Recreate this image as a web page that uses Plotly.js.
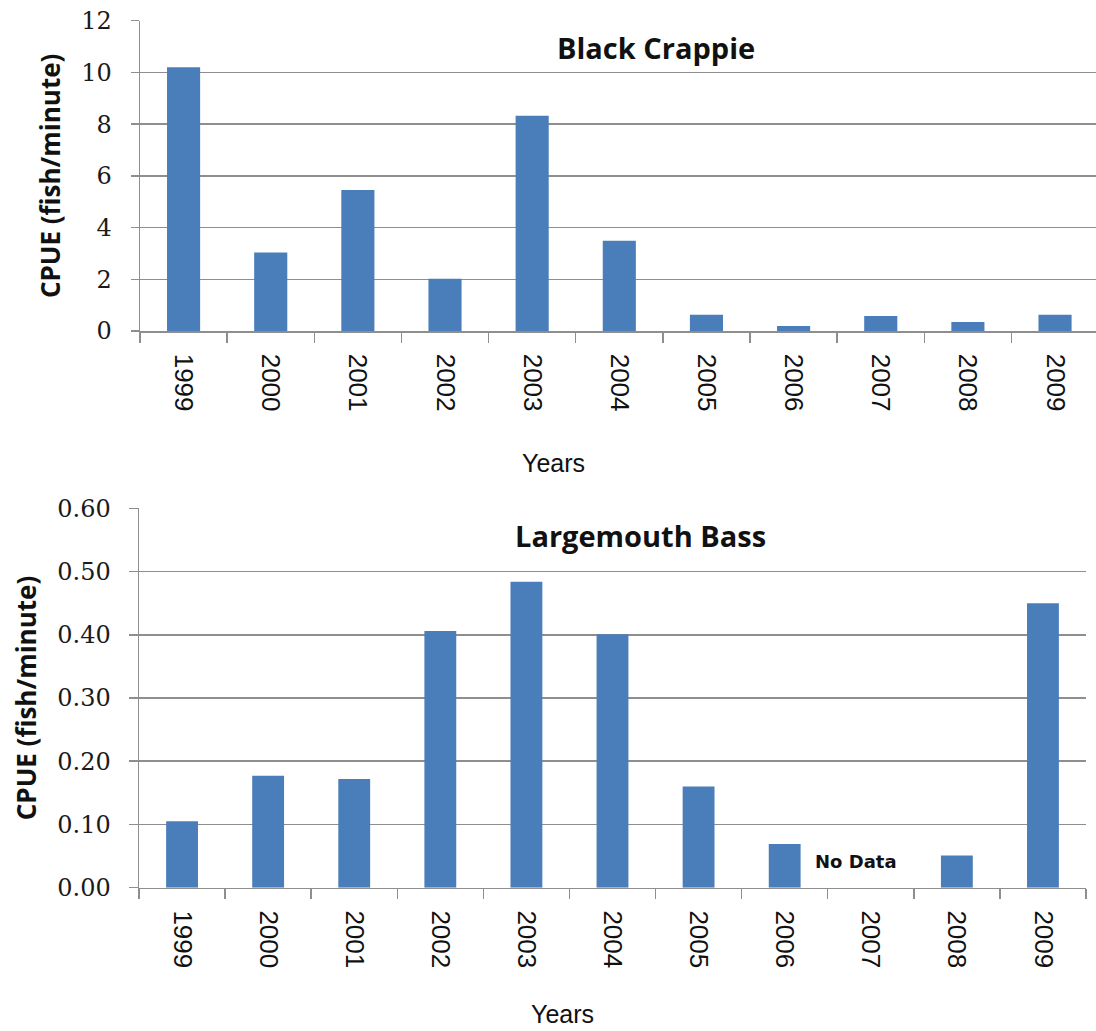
<!DOCTYPE html>
<html>
<head>
<meta charset="utf-8">
<script src="https://cdn.plot.ly/plotly-3.0.1.min.js"></script>
<style>
  html, body { margin: 0; padding: 0; background: #ffffff; }
  #chart { width: 1096px; height: 1031px; }
</style>
</head>
<body>
<div id="chart"></div>
<script>
// Survey years shared by both panels
const years = ['1999', '2000', '2001', '2002', '2003', '2004', '2005', '2006', '2007', '2008', '2009'];

// Black Crappie catch per unit effort (fish/minute)
const crappieCpue = [10.2, 3.04, 5.45, 2.02, 8.32, 3.49, 0.63, 0.19, 0.58, 0.35, 0.63];

// Largemouth Bass catch per unit effort (fish/minute); 2007 was not sampled
const bassCpue = [0.105, 0.177, 0.172, 0.406, 0.484, 0.401, 0.160, 0.069, null, 0.051, 0.450];

// Tick values for the two value axes
const crappieTicks = [0, 2, 4, 6, 8, 10, 12];
const bassTicks = [0, 0.1, 0.2, 0.3, 0.4, 0.5, 0.6];

const W = 1096, H = 1031;
const px = v => v / W;            // horizontal pixel -> paper fraction
const py = v => (H - v) / H;      // vertical pixel (from top) -> paper fraction

const barColor = '#4a7ebb';
const gridColor = '#8e8e8e';
const panelTitleFont = { family: 'Open Sans, Noto Sans, sans-serif', size: 29, color: '#111111', weight: 700 };
const yTitleFont = { family: 'Open Sans, Noto Sans, sans-serif', size: 26, color: '#111111', weight: 700 };
const yTickFont = { family: 'DejaVu Serif, serif', size: 24, color: '#1a1a1a' };
const xTickFont = { family: 'Liberation Sans, Arial, sans-serif', size: 26, color: '#111111' };
const yearsFont = { family: 'Liberation Sans, Arial, sans-serif', size: 25, color: '#111111' };

const traces = [
  {
    type: 'bar', x: years, y: crappieCpue, xaxis: 'x', yaxis: 'y',
    marker: { color: barColor }, width: 0.38, hoverinfo: 'x+y', showlegend: false
  },
  {
    type: 'bar', x: years, y: bassCpue, xaxis: 'x2', yaxis: 'y2',
    marker: { color: barColor }, width: 0.37, hoverinfo: 'x+y', showlegend: false
  }
];

const xCommon = {
  type: 'category',
  tickangle: 90,
  tickfont: xTickFont,
  ticks: 'outside', tickson: 'boundaries', ticklen: 10, tickwidth: 1.5, tickcolor: gridColor,
  showline: true, linecolor: gridColor, linewidth: 1.5,
  showgrid: false, zeroline: false, fixedrange: true,
  ticklabelstandoff: 16
};

// Value axes: the short outside tick marks are drawn as minor ticks at
// the same values; the labels keep a fixed gap from the axis line.
const yCommon = {
  showgrid: true, gridcolor: gridColor, gridwidth: 1.5,
  showline: true, linecolor: gridColor, linewidth: 1.5,
  ticks: '', tickfont: yTickFont, zeroline: false, fixedrange: true,
  ticklabelstandoff: 22
};

const layout = {
  width: W, height: H,
  margin: { l: 0, r: 0, t: 0, b: 0 },
  paper_bgcolor: '#ffffff', plot_bgcolor: '#ffffff',
  showlegend: false,
  xaxis: Object.assign({}, xCommon, {
    domain: [px(140), 1], anchor: 'y', range: [-0.5, 10.47]
  }),
  yaxis: Object.assign({}, yCommon, {
    domain: [py(331), py(20.7)], anchor: 'x', range: [0, 12],
    tickvals: crappieTicks, ticktext: crappieTicks.map(String),
    minor: { tickmode: 'array', tickvals: crappieTicks, ticks: 'outside', ticklen: 8,
             tickwidth: 1.5, tickcolor: gridColor, showgrid: false },
    title: { text: 'CPUE (fish/minute)', font: yTitleFont, standoff: 13 }
  }),
  xaxis2: Object.assign({}, xCommon, {
    domain: [px(139), px(1086)], anchor: 'y2', range: [-0.5, 10.5]
  }),
  yaxis2: Object.assign({}, yCommon, {
    domain: [py(887.7), py(508.3)], anchor: 'x2', range: [0, 0.6],
    tickvals: bassTicks, ticktext: bassTicks.map(v => v.toFixed(2)),
    minor: { tickmode: 'array', tickvals: bassTicks, ticks: 'outside', ticklen: 9,
             tickwidth: 1.5, tickcolor: gridColor, showgrid: false },
    title: { text: 'CPUE (fish/minute)', font: yTitleFont, standoff: 13 }
  }),
  annotations: [
    { text: 'Black Crappie', xref: 'paper', yref: 'paper', x: px(656), y: py(47),
      xanchor: 'center', yanchor: 'middle', showarrow: false, font: panelTitleFont },
    { text: 'Largemouth Bass', xref: 'paper', yref: 'paper', x: px(640), y: py(535),
      xanchor: 'center', yanchor: 'middle', showarrow: false, font: panelTitleFont },
    { text: 'Years', xref: 'paper', yref: 'paper', x: px(553), y: py(463),
      xanchor: 'center', yanchor: 'middle', showarrow: false, font: yearsFont },
    { text: 'Years', xref: 'paper', yref: 'paper', x: px(562), y: py(1014),
      xanchor: 'center', yanchor: 'middle', showarrow: false, font: yearsFont },
    { text: 'No Data', xref: 'x2', yref: 'y2', x: 8, y: 0.042, xshift: -15,
      xanchor: 'center', yanchor: 'middle', showarrow: false,
      font: { family: 'DejaVu Sans, Verdana, sans-serif', size: 18, color: '#111111', weight: 700 } }
  ]
};

Plotly.newPlot('chart', traces, layout, { staticPlot: true, displayModeBar: false });
</script>
</body>
</html>
